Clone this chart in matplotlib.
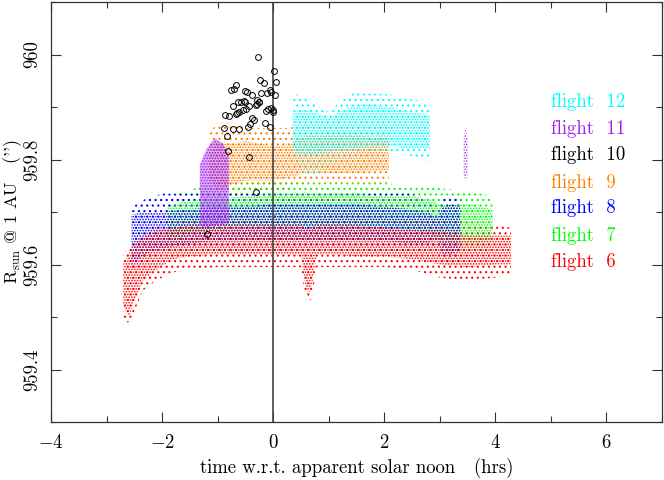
import matplotlib
matplotlib.use("Agg")
import matplotlib.pyplot as plt
from matplotlib.ticker import MultipleLocator

plt.rcParams['font.family'] = ['cmr10', 'DejaVu Serif']
plt.rcParams['mathtext.fontset'] = 'cm'
plt.rcParams['axes.formatter.use_mathtext'] = True
plt.rcParams['hatch.linewidth'] = 0.8

# ---- data: envelopes of each flight's point cloud ----
# (core = densest part, outer = full spread of the dots)
# flight 6 (red)
f6_t      = [-2.70, -2.60, -2.50, -2.35, -2.10, -1.80, -1.50, -1.00, -0.50, 0.00, 0.50, 0.58, 0.64, 0.70, 0.78, 1.00, 1.50, 2.00, 2.50, 3.00, 3.50, 4.00, 4.28]
f6_lo     = [959.52, 959.50, 959.53, 959.57, 959.59, 959.61, 959.615, 959.62, 959.62, 959.62, 959.62, 959.56, 959.545, 959.56, 959.62, 959.62, 959.615, 959.615, 959.61, 959.60, 959.595, 959.60, 959.60]
f6_hi     = [959.60, 959.62, 959.64, 959.65, 959.665, 959.67, 959.675, 959.675, 959.675, 959.675, 959.675, 959.67, 959.67, 959.67, 959.675, 959.675, 959.675, 959.67, 959.665, 959.665, 959.655, 959.655, 959.655]
f6_out_lo = [959.49, 959.49, 959.51, 959.55, 959.57, 959.585, 959.59, 959.595, 959.595, 959.595, 959.595, 959.535, 959.53, 959.535, 959.595, 959.595, 959.595, 959.595, 959.59, 959.575, 959.57, 959.575, 959.58]
f6_out_hi = [959.62, 959.635, 959.65, 959.66, 959.675, 959.685, 959.69, 959.695, 959.695, 959.695, 959.695, 959.69, 959.69, 959.69, 959.695, 959.695, 959.695, 959.69, 959.69, 959.69, 959.68, 959.675, 959.67]
# flight 7 (green)
f7_t      = [-1.90, -1.60, -1.20, -0.50, 0.00, 0.50, 1.00, 1.50, 2.00, 2.50, 2.80, 3.00, 3.50, 3.95]
f7_lo     = [959.645, 959.655, 959.665, 959.67, 959.67, 959.67, 959.67, 959.67, 959.67, 959.665, 959.66, 959.645, 959.64, 959.645]
f7_hi     = [959.71, 959.72, 959.725, 959.73, 959.735, 959.735, 959.735, 959.735, 959.73, 959.73, 959.725, 959.715, 959.715, 959.705]
f7_out_lo = [959.61, 959.62, 959.645, 959.645, 959.645, 959.645, 959.645, 959.645, 959.645, 959.645, 959.64, 959.625, 959.62, 959.625]
f7_out_hi = [959.73, 959.74, 959.75, 959.755, 959.755, 959.755, 959.755, 959.755, 959.755, 959.75, 959.75, 959.745, 959.74, 959.73]
# flight 8 (blue)
f8_t      = [-2.55, -2.30, -2.00, -1.50, -1.00, -0.50, 0.00, 0.50, 1.00, 1.50, 2.00, 2.50, 2.78, 2.95, 3.06, 3.20, 3.37]
f8_lo     = [959.60, 959.62, 959.63, 959.64, 959.645, 959.645, 959.645, 959.645, 959.645, 959.645, 959.645, 959.64, 959.64, 959.65, 959.62, 959.62, 959.625]
f8_hi     = [959.695, 959.70, 959.70, 959.705, 959.71, 959.71, 959.715, 959.715, 959.715, 959.715, 959.71, 959.705, 959.70, 959.69, 959.71, 959.715, 959.71]
f8_out_lo = [959.59, 959.60, 959.625, 959.625, 959.625, 959.625, 959.625, 959.625, 959.625, 959.625, 959.625, 959.625, 959.625, 959.63, 959.60, 959.60, 959.60]
f8_out_hi = [959.71, 959.725, 959.735, 959.735, 959.735, 959.735, 959.735, 959.735, 959.735, 959.735, 959.735, 959.735, 959.72, 959.71, 959.73, 959.73, 959.73]
# flight 9 (orange)
f9_t      = [-1.15, -1.00, -0.80, -0.50, -0.20, 0.00, 0.30, 0.60, 1.00, 1.50, 2.08]
f9_lo     = [959.77, 959.74, 959.75, 959.76, 959.76, 959.76, 959.765, 959.775, 959.775, 959.775, 959.78]
f9_hi     = [959.81, 959.83, 959.83, 959.835, 959.83, 959.825, 959.83, 959.845, 959.845, 959.845, 959.84]
f9_out_lo = [959.75, 959.72, 959.72, 959.735, 959.735, 959.735, 959.745, 959.755, 959.755, 959.755, 959.755]
f9_out_hi = [959.85, 959.87, 959.87, 959.86, 959.86, 959.86, 959.86, 959.87, 959.87, 959.87, 959.87]
# flight 11 (purple) -- main cluster and late cluster
f11_t   = [-1.32, -1.20, -1.05, -0.90, -0.80]
f11_lo  = [959.675, 959.67, 959.675, 959.675, 959.68]
f11_hi  = [959.79, 959.82, 959.84, 959.83, 959.81]
f11b_t  = [3.43, 3.46, 3.50]
f11b_lo = [959.77, 959.76, 959.77]
f11b_hi = [959.84, 959.86, 959.84]
# flight 12 (cyan)
f12_t      = [0.35, 0.55, 0.75, 1.00, 1.38, 1.74, 2.10, 2.50, 2.82]
f12_lo     = [959.815, 959.81, 959.81, 959.815, 959.82, 959.825, 959.825, 959.82, 959.82]
f12_hi     = [959.89, 959.895, 959.89, 959.88, 959.90, 959.905, 959.90, 959.89, 959.885]
f12_out_lo = [959.81, 959.773, 959.764, 959.79, 959.806, 959.81, 959.815, 959.806, 959.796]
f12_out_hi = [959.926, 959.92, 959.905, 959.891, 959.926, 959.926, 959.924, 959.914, 959.91]

# flight 10 (black open circles)
f10_t = [-0.268, 0.011, 0.047, -0.232, -0.160, -0.665, -0.759, -0.700, -0.504, -0.466,
         -0.387, -0.216, -0.106, -0.058, -0.031, 0.032, -0.522, -0.513, -0.576, -0.638,
         -0.300, -0.261, -0.250, -0.318, -0.291, -0.430, -0.718, -0.090, -0.045, -0.004,
         -0.129, 0.005, -0.498, -0.549, -0.615, -0.674, -0.655, -0.867, -0.800, -0.390,
         -0.349, -0.144, -0.063, -0.414, -0.459, -0.885, -0.723, -0.621, -0.826, -0.818,
         -0.441, -0.315, -1.186]
f10_r = [959.995, 959.969, 959.948, 959.952, 959.945, 959.942, 959.933, 959.934, 959.931, 959.928,
         959.923, 959.926, 959.927, 959.933, 959.929, 959.923, 959.912, 959.909, 959.910, 959.910,
         959.913, 959.909, 959.910, 959.903, 959.905, 959.902, 959.901, 959.897, 959.899, 959.895,
         959.892, 959.890, 959.896, 959.894, 959.890, 959.887, 959.888, 959.885, 959.883, 959.880,
         959.876, 959.870, 959.862, 959.868, 959.862, 959.860, 959.859, 959.859, 959.844, 959.816,
         959.805, 959.738, 959.659]

labels = ['flight  12', 'flight  11', 'flight  10', 'flight  9', 'flight  8', 'flight  7', 'flight  6']
label_colors = ['#00FFFF', '#A020F0', '#000000', '#FF8000', '#0000FF', '#00FF00', '#FF0000']
label_y = [959.909, 959.859, 959.808, 959.756, 959.707, 959.655, 959.604]

FS = 13.5
CORE = '......'   # dense dot texture
HALO = '...'      # sparse dot texture (sub-lattice of the dense one)

fig = plt.figure(figsize=(6.64, 4.8), dpi=100)
ax = fig.add_axes([51/664, 58/480, 611/664, 420/480])

def band(t, lo, hi, color, hatch, z):
    ax.fill_between(t, lo, hi, facecolor='none', edgecolor=color, linewidth=0,
                    hatch=hatch, zorder=z)

# outer spreads first
band(f9_t, f9_out_lo, f9_out_hi, '#FF8000', HALO, 1.0)
band(f12_t, f12_out_lo, f12_out_hi, '#00FFFF', HALO, 1.1)
band(f7_t, f7_out_lo, f7_out_hi, '#00FF00', HALO, 1.0)
band(f8_t, f8_out_lo, f8_out_hi, '#0000FF', HALO, 1.1)
band(f6_t, f6_out_lo, f6_out_hi, '#FF0000', HALO, 1.2)
# dense cores
band(f9_t, f9_lo, f9_hi, '#FF8000', CORE, 1.5)
band(f12_t, f12_lo, f12_hi, '#00FFFF', CORE, 1.6)
band(f7_t, f7_lo, f7_hi, '#00FF00', CORE, 1.5)
band(f8_t, f8_lo, f8_hi, '#0000FF', CORE, 1.6)
band(f6_t, f6_lo, f6_hi, '#FF0000', CORE, 1.7)
# purple clusters (very dense)
ax.fill_between(f11_t, f11_lo, f11_hi, facecolor='#A020F0', alpha=0.35, linewidth=0, zorder=1.8)
band(f11_t, f11_lo, f11_hi, '#A020F0', CORE, 1.9)
band(f11b_t, f11b_lo, f11b_hi, '#A020F0', CORE, 1.9)

ax.plot(f10_t, f10_r, linestyle='none', marker='o', markersize=4.2,
        markerfacecolor='none', markeredgecolor='black', markeredgewidth=0.7, zorder=3)

ax.axvline(0, color='#444444', linewidth=1.2, zorder=2.5)

for lab, c, y in zip(labels, label_colors, label_y):
    ax.text(5.0, y, lab, color=c, fontsize=FS, va='center', ha='left')

ax.set_xlim(-4, 7)
ax.set_ylim(959.3, 960.1)
ax.xaxis.set_major_locator(MultipleLocator(2))
ax.xaxis.set_minor_locator(MultipleLocator(1))
ax.yaxis.set_minor_locator(MultipleLocator(0.1))
ax.tick_params(which='both', direction='in', top=True, right=True, width=0.8, color='#333333')
ax.tick_params(which='major', length=7.5, labelsize=FS)
ax.tick_params(axis='x', which='major', pad=9)
ax.tick_params(axis='y', which='major', pad=7)
ax.tick_params(which='minor', length=4.5)
ax.set_yticks([959.4, 959.6, 959.8, 960.0])
ax.set_yticklabels(['959.4', '959.6', '959.8', '960'], rotation=90, va='center')
for s in ax.spines.values():
    s.set_linewidth(0.9)
    s.set_color('#333333')

ax.set_xlabel('time w.r.t. apparent solar noon   (hrs)', fontsize=FS)
ax.xaxis.set_label_coords(0.5, -0.085)
ax.set_ylabel(r"R$_{\rm sun}$ @ 1 AU   ('')", fontsize=13)
ax.yaxis.set_label_coords(-0.044, 0.5)

fig.savefig('out.png', dpi=100)
